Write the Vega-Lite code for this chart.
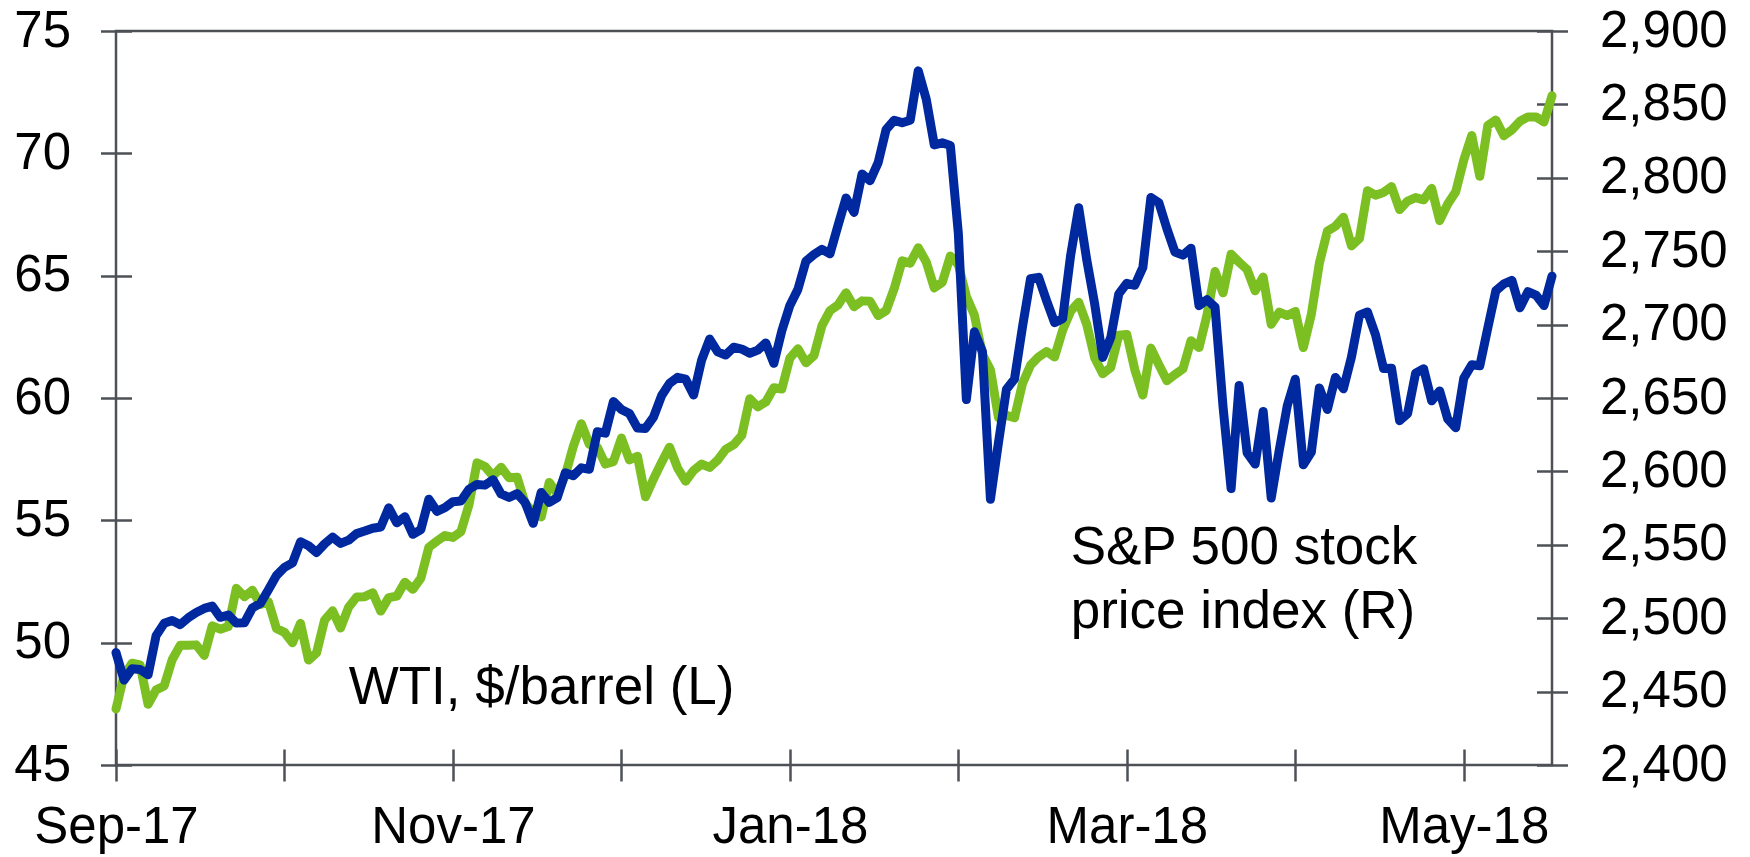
{
  "$schema": "https://vega.github.io/schema/vega-lite/v6.json",
  "width": 1436,
  "height": 734,
  "autosize": {"type": "none"},
  "padding": {"left": 116, "top": 31, "right": 198, "bottom": 92},
  "background": "white",
  "config": {
    "view": {"stroke": "#4d5156", "strokeWidth": 2.5}
  },
  "data": {"values": [
    {"d":"2017-09-01","wti":47.29,"sp":2476.55},{"d":"2017-09-05","wti":48.66,"sp":2457.85},{"d":"2017-09-06","wti":49.16,"sp":2465.54},{"d":"2017-09-07","wti":49.09,"sp":2465.10},{"d":"2017-09-08","wti":47.48,"sp":2461.43},
    {"d":"2017-09-11","wti":48.07,"sp":2488.11},{"d":"2017-09-12","wti":48.23,"sp":2496.48},{"d":"2017-09-13","wti":49.30,"sp":2498.37},{"d":"2017-09-14","wti":49.89,"sp":2495.62},{"d":"2017-09-15","wti":49.89,"sp":2500.23},
    {"d":"2017-09-18","wti":49.91,"sp":2503.87},{"d":"2017-09-19","wti":49.48,"sp":2506.65},{"d":"2017-09-20","wti":50.69,"sp":2508.24},{"d":"2017-09-21","wti":50.55,"sp":2500.60},{"d":"2017-09-22","wti":50.66,"sp":2502.22},
    {"d":"2017-09-25","wti":52.22,"sp":2496.66},{"d":"2017-09-26","wti":51.88,"sp":2496.84},{"d":"2017-09-27","wti":52.14,"sp":2507.04},{"d":"2017-09-28","wti":51.56,"sp":2510.06},{"d":"2017-09-29","wti":51.67,"sp":2519.36},
    {"d":"2017-10-02","wti":50.58,"sp":2529.12},{"d":"2017-10-03","wti":50.42,"sp":2534.58},{"d":"2017-10-04","wti":50.00,"sp":2537.74},{"d":"2017-10-05","wti":50.79,"sp":2552.07},{"d":"2017-10-06","wti":49.29,"sp":2549.33},
    {"d":"2017-10-09","wti":49.58,"sp":2544.73},{"d":"2017-10-10","wti":50.92,"sp":2550.64},{"d":"2017-10-11","wti":51.30,"sp":2555.24},{"d":"2017-10-12","wti":50.60,"sp":2550.93},{"d":"2017-10-13","wti":51.45,"sp":2553.17},
    {"d":"2017-10-16","wti":51.87,"sp":2557.64},{"d":"2017-10-17","wti":51.88,"sp":2559.36},{"d":"2017-10-18","wti":52.04,"sp":2561.26},{"d":"2017-10-19","wti":51.29,"sp":2562.10},{"d":"2017-10-20","wti":51.84,"sp":2575.21},
    {"d":"2017-10-23","wti":51.90,"sp":2564.98},{"d":"2017-10-24","wti":52.47,"sp":2569.13},{"d":"2017-10-25","wti":52.18,"sp":2557.15},{"d":"2017-10-26","wti":52.64,"sp":2560.40},{"d":"2017-10-27","wti":53.90,"sp":2581.07},
    {"d":"2017-10-30","wti":54.15,"sp":2572.83},{"d":"2017-10-31","wti":54.38,"sp":2575.26},
    {"d":"2017-11-01","wti":54.30,"sp":2579.36},{"d":"2017-11-02","wti":54.54,"sp":2579.85},{"d":"2017-11-03","wti":55.64,"sp":2587.84},
    {"d":"2017-11-06","wti":57.35,"sp":2591.13},{"d":"2017-11-07","wti":57.20,"sp":2590.64},{"d":"2017-11-08","wti":56.81,"sp":2594.38},{"d":"2017-11-09","wti":57.17,"sp":2584.62},{"d":"2017-11-10","wti":56.74,"sp":2582.30},
    {"d":"2017-11-13","wti":56.76,"sp":2584.84},{"d":"2017-11-14","wti":55.70,"sp":2578.87},{"d":"2017-11-15","wti":55.33,"sp":2564.62},{"d":"2017-11-16","wti":55.14,"sp":2585.64},{"d":"2017-11-17","wti":56.55,"sp":2578.85},
    {"d":"2017-11-20","wti":56.09,"sp":2582.14},{"d":"2017-11-21","wti":56.83,"sp":2599.03},{"d":"2017-11-22","wti":58.02,"sp":2597.08},{"d":"2017-11-24","wti":58.95,"sp":2602.42},
    {"d":"2017-11-27","wti":58.11,"sp":2601.42},{"d":"2017-11-28","wti":57.99,"sp":2627.04},{"d":"2017-11-29","wti":57.30,"sp":2626.07},{"d":"2017-11-30","wti":57.40,"sp":2647.58},
    {"d":"2017-12-01","wti":58.36,"sp":2642.22},{"d":"2017-12-04","wti":57.47,"sp":2639.44},{"d":"2017-12-05","wti":57.62,"sp":2629.57},{"d":"2017-12-06","wti":55.96,"sp":2629.27},{"d":"2017-12-07","wti":56.69,"sp":2636.98},
    {"d":"2017-12-08","wti":57.36,"sp":2651.50},{"d":"2017-12-11","wti":57.99,"sp":2659.99},{"d":"2017-12-12","wti":57.14,"sp":2664.11},{"d":"2017-12-13","wti":56.60,"sp":2662.85},{"d":"2017-12-14","wti":57.04,"sp":2652.01},
    {"d":"2017-12-15","wti":57.30,"sp":2675.81},{"d":"2017-12-18","wti":57.16,"sp":2690.16},{"d":"2017-12-19","wti":57.46,"sp":2681.47},{"d":"2017-12-20","wti":57.90,"sp":2679.25},{"d":"2017-12-21","wti":58.09,"sp":2684.57},
    {"d":"2017-12-22","wti":58.47,"sp":2683.34},{"d":"2017-12-26","wti":59.97,"sp":2680.50},{"d":"2017-12-27","wti":59.64,"sp":2682.62},{"d":"2017-12-28","wti":59.84,"sp":2687.54},{"d":"2017-12-29","wti":60.42,"sp":2673.61},
    {"d":"2018-01-02","wti":60.37,"sp":2695.81},{"d":"2018-01-03","wti":61.63,"sp":2713.06},{"d":"2018-01-04","wti":62.01,"sp":2723.99},{"d":"2018-01-05","wti":61.44,"sp":2743.15},{"d":"2018-01-08","wti":61.73,"sp":2747.71},
    {"d":"2018-01-09","wti":62.96,"sp":2751.29},{"d":"2018-01-10","wti":63.57,"sp":2748.23},{"d":"2018-01-11","wti":63.80,"sp":2767.56},{"d":"2018-01-12","wti":64.30,"sp":2786.24},{"d":"2018-01-16","wti":63.73,"sp":2776.42},
    {"d":"2018-01-17","wti":63.97,"sp":2802.56},{"d":"2018-01-18","wti":63.95,"sp":2798.03},{"d":"2018-01-19","wti":63.37,"sp":2810.30},{"d":"2018-01-22","wti":63.57,"sp":2832.97},{"d":"2018-01-23","wti":64.47,"sp":2839.13},
    {"d":"2018-01-24","wti":65.61,"sp":2837.54},{"d":"2018-01-25","wti":65.51,"sp":2839.25},{"d":"2018-01-26","wti":66.14,"sp":2872.87},{"d":"2018-01-29","wti":65.56,"sp":2853.53},{"d":"2018-01-30","wti":64.50,"sp":2822.43},
    {"d":"2018-01-31","wti":64.73,"sp":2823.81},
    {"d":"2018-02-01","wti":65.80,"sp":2821.98},{"d":"2018-02-02","wti":65.45,"sp":2762.13},{"d":"2018-02-05","wti":64.15,"sp":2648.94},{"d":"2018-02-06","wti":63.39,"sp":2695.14},{"d":"2018-02-07","wti":61.79,"sp":2681.66},
    {"d":"2018-02-08","wti":61.15,"sp":2581.00},{"d":"2018-02-09","wti":59.20,"sp":2619.55},{"d":"2018-02-12","wti":59.29,"sp":2656.00},{"d":"2018-02-13","wti":59.19,"sp":2662.94},{"d":"2018-02-14","wti":60.60,"sp":2698.63},
    {"d":"2018-02-15","wti":61.34,"sp":2731.20},{"d":"2018-02-16","wti":61.68,"sp":2732.22},{"d":"2018-02-20","wti":61.90,"sp":2716.26},{"d":"2018-02-21","wti":61.68,"sp":2701.33},{"d":"2018-02-22","wti":62.77,"sp":2703.96},
    {"d":"2018-02-23","wti":63.55,"sp":2747.30},{"d":"2018-02-26","wti":63.91,"sp":2779.60},{"d":"2018-02-27","wti":63.01,"sp":2744.28},{"d":"2018-02-28","wti":61.64,"sp":2713.83},
    {"d":"2018-03-01","wti":60.99,"sp":2677.67},{"d":"2018-03-02","wti":61.25,"sp":2691.25},{"d":"2018-03-05","wti":62.57,"sp":2720.94},{"d":"2018-03-06","wti":62.60,"sp":2728.12},{"d":"2018-03-07","wti":61.15,"sp":2726.80},
    {"d":"2018-03-08","wti":60.12,"sp":2738.97},{"d":"2018-03-09","wti":62.04,"sp":2786.57},{"d":"2018-03-12","wti":61.36,"sp":2783.02},{"d":"2018-03-13","wti":60.71,"sp":2765.31},{"d":"2018-03-14","wti":60.96,"sp":2749.48},
    {"d":"2018-03-15","wti":61.19,"sp":2747.33},{"d":"2018-03-16","wti":62.34,"sp":2752.01},{"d":"2018-03-19","wti":62.06,"sp":2712.92},{"d":"2018-03-20","wti":63.40,"sp":2716.94},{"d":"2018-03-21","wti":65.17,"sp":2711.93},
    {"d":"2018-03-22","wti":64.30,"sp":2643.69},{"d":"2018-03-23","wti":65.88,"sp":2588.26},{"d":"2018-03-26","wti":65.55,"sp":2658.55},{"d":"2018-03-27","wti":65.25,"sp":2612.62},{"d":"2018-03-28","wti":64.38,"sp":2605.00},
    {"d":"2018-03-29","wti":64.94,"sp":2640.87},
    {"d":"2018-04-02","wti":63.01,"sp":2581.88},{"d":"2018-04-03","wti":63.51,"sp":2614.45},{"d":"2018-04-04","wti":63.37,"sp":2644.69},{"d":"2018-04-05","wti":63.54,"sp":2662.84},{"d":"2018-04-06","wti":62.06,"sp":2604.47},
    {"d":"2018-04-09","wti":63.42,"sp":2613.16},{"d":"2018-04-10","wti":65.51,"sp":2656.87},{"d":"2018-04-11","wti":66.82,"sp":2642.19},{"d":"2018-04-12","wti":67.02,"sp":2663.99},{"d":"2018-04-13","wti":67.39,"sp":2656.30},
    {"d":"2018-04-16","wti":66.22,"sp":2677.84},{"d":"2018-04-17","wti":66.52,"sp":2706.39},{"d":"2018-04-18","wti":68.47,"sp":2708.64},{"d":"2018-04-19","wti":68.29,"sp":2693.13},{"d":"2018-04-20","wti":68.40,"sp":2670.14},
    {"d":"2018-04-23","wti":68.64,"sp":2670.29},{"d":"2018-04-24","wti":67.70,"sp":2634.56},{"d":"2018-04-25","wti":68.05,"sp":2639.40},{"d":"2018-04-26","wti":68.19,"sp":2666.94},{"d":"2018-04-27","wti":68.10,"sp":2669.91},
    {"d":"2018-04-30","wti":68.57,"sp":2648.05},
    {"d":"2018-05-01","wti":67.25,"sp":2654.80},{"d":"2018-05-02","wti":67.93,"sp":2635.67},{"d":"2018-05-03","wti":68.43,"sp":2629.73},{"d":"2018-05-04","wti":69.72,"sp":2663.42},{"d":"2018-05-07","wti":70.73,"sp":2672.63},
    {"d":"2018-05-08","wti":69.06,"sp":2671.92},{"d":"2018-05-09","wti":71.14,"sp":2697.79},{"d":"2018-05-10","wti":71.36,"sp":2723.07},{"d":"2018-05-11","wti":70.72,"sp":2727.72},{"d":"2018-05-14","wti":70.96,"sp":2730.13},
    {"d":"2018-05-15","wti":71.31,"sp":2711.45},{"d":"2018-05-16","wti":71.49,"sp":2722.46},{"d":"2018-05-17","wti":71.49,"sp":2720.13},{"d":"2018-05-18","wti":71.28,"sp":2712.97},{"d":"2018-05-21","wti":72.35,"sp":2733.01}
  ]},
  "transform": [{"window": [{"op": "row_number", "as": "i"}]}],
  "layer": [
    {
      "mark": {"type": "line", "color": "#7bbf23", "strokeWidth": 9, "strokeJoin": "round", "strokeCap": "round"},
      "encoding": {
        "x": {
          "field": "i", "type": "quantitative",
          "scale": {"domain": [1, 180], "nice": false, "zero": false},
          "axis": {
            "values": [1, 22, 43, 64, 85, 106, 127, 148, 169],
            "labelExpr": "datum.value == 1 ? 'Sep-17' : datum.value == 43 ? 'Nov-17' : datum.value == 85 ? 'Jan-18' : datum.value == 127 ? 'Mar-18' : datum.value == 169 ? 'May-18' : ''",
            "title": null, "domain": false, "grid": false,
            "ticks": true, "tickSize": 32, "tickWidth": 2.5, "tickColor": "#4d5156", "offset": -16,
            "labelPadding": 21, "labelFontSize": 51, "labelFont": "Liberation Sans", "labelColor": "#000000",
            "labelAngle": 0, "labelOverlap": false, "labelBound": false, "labelFlush": false
          }
        },
        "y": {
          "field": "wti", "type": "quantitative",
          "scale": {"domain": [45, 75], "nice": false, "zero": false},
          "axis": {
            "orient": "left", "values": [45, 50, 55, 60, 65, 70, 75],
            "title": null, "domain": false, "grid": false,
            "ticks": true, "tickSize": 31, "tickWidth": 2.5, "tickColor": "#4d5156", "offset": -15.5,
            "labelPadding": 30, "labelFontSize": 51, "labelFont": "Liberation Sans", "labelColor": "#000000",
            "labelOverlap": false, "labelBound": false, "labelFlush": false
          }
        }
      }
    },
    {
      "mark": {"type": "line", "color": "#0029a0", "strokeWidth": 9, "strokeJoin": "round", "strokeCap": "round"},
      "encoding": {
        "x": {"field": "i", "type": "quantitative", "axis": {"title": null}},
        "y": {
          "field": "sp", "type": "quantitative",
          "scale": {"domain": [2400, 2900], "nice": false, "zero": false},
          "axis": {
            "orient": "right", "values": [2400, 2450, 2500, 2550, 2600, 2650, 2700, 2750, 2800, 2850, 2900],
            "format": ",.0f",
            "title": null, "domain": false, "grid": false,
            "ticks": true, "tickSize": 31, "tickWidth": 2.5, "tickColor": "#4d5156", "offset": -15.5,
            "labelPadding": 32, "labelFontSize": 51, "labelFont": "Liberation Sans", "labelColor": "#000000",
            "labelOverlap": false, "labelBound": false, "labelFlush": false
          }
        }
      }
    },
    {
      "transform": [{"filter": "datum.d == '2017-10-13'"}],
      "mark": {"type": "text", "text": "WTI, $/barrel (L)", "align": "left", "baseline": "alphabetic", "fontSize": 53, "font": "Liberation Sans", "color": "#000000"},
      "encoding": {
        "x": {"field": "i", "type": "quantitative", "axis": {"title": null}},
        "y": {"datum": 47.49, "type": "quantitative", "scale": {"domain": [45, 75], "nice": false, "zero": false}, "axis": null}
      }
    },
    {
      "transform": [{"filter": "datum.d == '2018-02-23'"}],
      "mark": {"type": "text", "text": ["S&P 500 stock", "price index (R)"], "align": "left", "baseline": "alphabetic", "fontSize": 53, "lineHeight": 64, "font": "Liberation Sans", "color": "#000000"},
      "encoding": {
        "x": {"field": "i", "type": "quantitative", "axis": {"title": null}},
        "y": {"datum": 2537, "type": "quantitative", "scale": {"domain": [2400, 2900], "nice": false, "zero": false}, "axis": null}
      }
    }
  ],
  "resolve": {"scale": {"y": "independent"}}
}
